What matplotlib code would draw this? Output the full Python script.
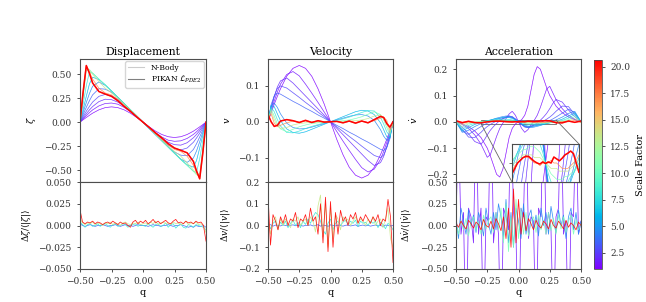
import numpy as np
import matplotlib.pyplot as plt
from matplotlib import colors, cm
from matplotlib.lines import Line2D
from mpl_toolkits.axes_grid1.inset_locator import mark_inset

plt.rcParams['font.family'] = 'DejaVu Serif'
plt.rcParams['mathtext.fontset'] = 'dejavuserif'
plt.rcParams['axes.edgecolor'] = '0.3'
plt.rcParams['xtick.color'] = '0.2'
plt.rcParams['ytick.color'] = '0.2'

## scale factors of the plotted snapshots
scales = [1.0, 1.5, 2.0, 2.7, 3.5, 4.5, 6.0, 8.0, 10.5, 13.5, 17.0, 20.5]

## displacement zeta(q), one row per scale factor
q_disp = [-0.5, -0.475, -0.45, -0.425, -0.4, -0.35, -0.3, -0.25, -0.2, -0.15, -0.1, -0.05, 0.0,
          0.05, 0.1, 0.15, 0.2, 0.25, 0.3, 0.35, 0.4, 0.425, 0.45, 0.475, 0.5]
disp = [
    [0, 0.025, 0.049, 0.072, 0.094, 0.129, 0.152, 0.16, 0.152, 0.129, 0.094, 0.049, 0, -0.049, -0.094, -0.129, -0.152, -0.16, -0.152, -0.129, -0.094, -0.072, -0.049, -0.025, 0],
    [0, 0.035, 0.068, 0.1, 0.128, 0.17, 0.195, 0.2, 0.188, 0.155, 0.11, 0.057, 0, -0.057, -0.11, -0.155, -0.188, -0.2, -0.195, -0.17, -0.128, -0.1, -0.068, -0.035, 0],
    [0, 0.045, 0.088, 0.128, 0.163, 0.215, 0.24, 0.235, 0.21, 0.17, 0.12, 0.062, 0, -0.062, -0.12, -0.17, -0.21, -0.235, -0.24, -0.215, -0.163, -0.128, -0.088, -0.045, 0],
    [0, 0.06, 0.115, 0.165, 0.21, 0.27, 0.29, 0.275, 0.24, 0.188, 0.128, 0.065, 0, -0.065, -0.128, -0.188, -0.24, -0.275, -0.29, -0.27, -0.21, -0.165, -0.115, -0.06, 0],
    [0, 0.08, 0.155, 0.225, 0.285, 0.35, 0.345, 0.312, 0.256, 0.194, 0.13, 0.065, 0, -0.065, -0.13, -0.194, -0.256, -0.312, -0.345, -0.35, -0.285, -0.225, -0.155, -0.08, 0],
    [0, 0.105, 0.205, 0.3, 0.375, 0.42, 0.385, 0.325, 0.26, 0.195, 0.13, 0.065, 0, -0.065, -0.13, -0.195, -0.26, -0.325, -0.385, -0.42, -0.375, -0.3, -0.205, -0.105, 0],
    [0, 0.135, 0.27, 0.4, 0.47, 0.445, 0.39, 0.325, 0.26, 0.195, 0.13, 0.065, 0, -0.065, -0.13, -0.195, -0.26, -0.325, -0.39, -0.445, -0.47, -0.4, -0.27, -0.135, 0],
    [0, 0.19, 0.38, 0.525, 0.512, 0.45, 0.39, 0.325, 0.26, 0.195, 0.13, 0.065, 0, -0.065, -0.13, -0.195, -0.26, -0.325, -0.39, -0.45, -0.512, -0.525, -0.38, -0.19, 0],
    [0, 0.26, 0.54, 0.55, 0.513, 0.45, 0.388, 0.323, 0.258, 0.193, 0.129, 0.064, 0, -0.064, -0.129, -0.193, -0.258, -0.323, -0.388, -0.45, -0.513, -0.55, -0.54, -0.26, 0],
    [0, 0.29, 0.575, 0.54, 0.5, 0.425, 0.355, 0.305, 0.25, 0.188, 0.126, 0.063, 0, -0.063, -0.126, -0.188, -0.25, -0.305, -0.355, -0.425, -0.5, -0.54, -0.575, -0.29, 0],
    [0, 0.31, 0.588, 0.525, 0.45, 0.355, 0.305, 0.285, 0.235, 0.175, 0.118, 0.058, 0, -0.058, -0.118, -0.175, -0.235, -0.285, -0.305, -0.355, -0.45, -0.525, -0.588, -0.31, 0],
    [0, 0.32, 0.592, 0.51, 0.41, 0.32, 0.294, 0.27, 0.224, 0.165, 0.113, 0.055, 0, -0.055, -0.113, -0.165, -0.224, -0.27, -0.294, -0.32, -0.41, -0.51, -0.592, -0.32, 0],
]

## velocity v(q), same grid as displacement
vel = [
    [0, 0.025, 0.049, 0.071, 0.092, 0.127, 0.149, 0.157, 0.149, 0.127, 0.092, 0.049, 0, -0.049, -0.092, -0.127, -0.149, -0.157, -0.149, -0.127, -0.092, -0.071, -0.049, -0.025, 0],
    [0, 0.03, 0.058, 0.083, 0.105, 0.132, 0.14, 0.128, 0.105, 0.08, 0.054, 0.027, 0, -0.027, -0.054, -0.08, -0.105, -0.128, -0.14, -0.132, -0.105, -0.083, -0.058, -0.03, 0],
    [0, 0.036, 0.07, 0.097, 0.114, 0.122, 0.108, 0.09, 0.072, 0.054, 0.036, 0.018, 0, -0.018, -0.036, -0.054, -0.072, -0.09, -0.108, -0.122, -0.114, -0.097, -0.07, -0.036, 0],
    [0, 0.04, 0.072, 0.093, 0.1, 0.094, 0.081, 0.068, 0.054, 0.041, 0.027, 0.014, 0, -0.014, -0.027, -0.041, -0.054, -0.068, -0.081, -0.094, -0.1, -0.093, -0.072, -0.04, 0],
    [0, 0.048, 0.072, 0.08, 0.077, 0.067, 0.057, 0.048, 0.038, 0.029, 0.019, 0.01, 0, -0.01, -0.019, -0.029, -0.038, -0.048, -0.057, -0.067, -0.077, -0.08, -0.072, -0.048, 0],
    [0, 0.045, 0.052, 0.04, 0.022, -0.004, -0.016, -0.02, -0.019, -0.015, -0.01, -0.005, 0, 0.005, 0.01, 0.015, 0.019, 0.02, 0.016, 0.004, -0.022, -0.04, -0.052, -0.045, 0],
    [0, 0.045, 0.042, 0.022, 0.003, -0.02, -0.03, -0.032, -0.028, -0.021, -0.014, -0.007, 0, 0.007, 0.014, 0.021, 0.028, 0.032, 0.03, 0.02, -0.003, -0.022, -0.042, -0.045, 0],
    [0, 0.04, 0.028, 0.006, -0.012, -0.03, -0.031, -0.026, -0.019, -0.013, -0.008, -0.003, 0, 0.003, 0.008, 0.013, 0.019, 0.026, 0.031, 0.03, 0.012, -0.006, -0.028, -0.04, 0],
    [0, 0.035, 0.016, -0.006, -0.02, -0.028, -0.021, -0.014, -0.009, -0.005, -0.003, -0.001, 0, 0.001, 0.003, 0.005, 0.009, 0.014, 0.021, 0.028, 0.02, 0.006, -0.016, -0.035, 0],
    [0.003, 0.03, 0.006, -0.012, -0.019, -0.016, -0.009, -0.005, -0.003, -0.002, -0.001, 0.0, 0, 0.0, 0.001, 0.002, 0.003, 0.005, 0.009, 0.016, 0.019, 0.012, -0.006, -0.03, -0.003],
    [0.01, 0.022, -0.004, -0.013, -0.01, -0.003, 0.002, -0.002, 0.002, -0.001, 0.002, -0.001, 0, 0.001, -0.002, 0.001, -0.002, 0.002, -0.002, 0.003, 0.01, 0.013, 0.004, -0.022, -0.01],
    [0.02, 0.0, -0.013, -0.01, 0.002, 0.006, 0.003, -0.002, 0.004, -0.002, 0.003, -0.001, 0, 0.001, -0.003, 0.002, -0.004, 0.002, -0.003, 0.006, 0.015, 0.012, -0.005, -0.015, 0.0],
]

## acceleration dv/dt(q)
q_acc = [-0.5, -0.45, -0.4, -0.35, -0.3, -0.275, -0.25, -0.225, -0.2, -0.175, -0.15, -0.125, -0.1, -0.075, -0.05, -0.025, 0.0,
         0.025, 0.05, 0.075, 0.1, 0.125, 0.15, 0.175, 0.2, 0.225, 0.25, 0.275, 0.3, 0.35, 0.4, 0.45, 0.5]
acc = [
    [0, -0.008, -0.018, -0.035, -0.06, -0.08, -0.1, -0.13, -0.165, -0.2, -0.21, -0.18, -0.12, -0.06, -0.025, -0.008, 0,
     0.008, 0.025, 0.06, 0.12, 0.18, 0.21, 0.2, 0.165, 0.13, 0.1, 0.08, 0.06, 0.035, 0.018, 0.008, 0],
    [0, -0.01, -0.025, -0.05, -0.085, -0.11, -0.135, -0.125, -0.09, -0.055, -0.025, -0.005, 0.012, 0.03, 0.04, 0.025, 0,
     -0.025, -0.04, -0.03, -0.012, 0.005, 0.025, 0.055, 0.09, 0.125, 0.135, 0.11, 0.085, 0.05, 0.025, 0.01, 0],
    [0, -0.02, -0.045, -0.075, -0.085, -0.07, -0.05, -0.032, -0.018, -0.006, 0.004, 0.012, 0.018, 0.022, 0.02, 0.011, 0,
     -0.011, -0.02, -0.022, -0.018, -0.012, -0.004, 0.006, 0.018, 0.032, 0.05, 0.07, 0.085, 0.075, 0.045, 0.02, 0],
    [0, -0.028, -0.058, -0.06, -0.04, -0.028, -0.018, -0.01, -0.003, 0.003, 0.008, 0.012, 0.016, 0.018, 0.016, 0.009, 0,
     -0.009, -0.016, -0.018, -0.016, -0.012, -0.008, -0.003, 0.003, 0.01, 0.018, 0.028, 0.04, 0.06, 0.058, 0.028, 0],
    [0, -0.035, -0.048, -0.033, -0.018, -0.011, -0.005, 0.0, 0.005, 0.009, 0.013, 0.016, 0.019, 0.02, 0.017, 0.009, 0,
     -0.009, -0.017, -0.02, -0.019, -0.016, -0.013, -0.009, -0.005, 0.0, 0.005, 0.011, 0.018, 0.033, 0.048, 0.035, 0],
    [0, -0.04, -0.032, -0.018, -0.007, -0.003, 0.002, 0.006, 0.01, 0.014, 0.017, 0.02, 0.022, 0.022, 0.018, 0.01, 0,
     -0.01, -0.018, -0.022, -0.022, -0.02, -0.017, -0.014, -0.01, -0.006, -0.002, 0.003, 0.007, 0.018, 0.032, 0.04, 0],
    [0, -0.034, -0.022, -0.01, -0.002, 0.001, 0.004, 0.007, 0.01, 0.012, 0.014, 0.016, 0.017, 0.016, 0.013, 0.007, 0,
     -0.007, -0.013, -0.016, -0.017, -0.016, -0.014, -0.012, -0.01, -0.007, -0.004, -0.001, 0.002, 0.01, 0.022, 0.034, 0],
    [0, -0.028, -0.014, -0.005, 0.0, 0.002, 0.004, 0.005, 0.007, 0.008, 0.009, 0.01, 0.01, 0.009, 0.007, 0.004, 0,
     -0.004, -0.007, -0.009, -0.01, -0.01, -0.009, -0.008, -0.007, -0.005, -0.004, -0.002, 0.0, 0.005, 0.014, 0.028, 0],
    [0, -0.02, -0.008, -0.002, 0.001, 0.002, 0.003, 0.004, 0.005, 0.005, 0.006, 0.006, 0.006, 0.005, 0.004, 0.002, 0,
     -0.002, -0.004, -0.005, -0.006, -0.006, -0.006, -0.005, -0.005, -0.004, -0.003, -0.002, -0.001, 0.002, 0.008, 0.02, 0],
    [0.002, -0.012, -0.004, 0.0, -0.001, 0.0, 0.001, 0.002, 0.003, 0.003, 0.003, 0.003, 0.002, 0.002, 0.002, 0.001, 0,
     -0.001, -0.002, -0.002, -0.002, -0.003, -0.003, -0.003, -0.003, -0.002, -0.001, 0.0, 0.001, 0.0, 0.004, 0.012, -0.002],
    [0.003, -0.006, 0.0, -0.002, -0.003, -0.001, 0.0, 0.001, 0.002, 0.002, 0.002, 0.001, 0.0, 0.0, -0.001, 0.0, 0,
     0.0, 0.001, 0.0, 0.0, -0.001, -0.002, -0.002, -0.002, -0.001, 0.0, 0.001, 0.003, 0.002, 0.0, 0.006, -0.003],
    [0.004, -0.003, 0.002, -0.003, -0.004, -0.002, 0.0, 0.001, 0.002, 0.0025, 0.0024, 0.0015, 0.0006, 0.0, -0.0004, 0.0004, -0.0002,
     0.0004, 0.0, 0.0022, 0.0015, 0.0008, 0.0018, 0.003, 0.0036, 0.0044, 0.0035, 0.0, -0.0035, -0.004, 0.003, -0.002, 0.003],
]

## relative errors (PIKAN - N-body) / <|N-body|>, evenly spaced in q
res_scales = [3.5, 8.0, 13.5, 20.5]
disp_res = [
    [0.002, 0.0, -0.001, 0.0, 0.001, 0.0, -0.001, 0.0, 0.0, 0.001, 0.0, -0.001, 0.0, 0.0, 0.001, 0.0, -0.001, 0.0, 0.001, 0.0, 0.0, -0.001, 0.0, 0.001, 0.0, 0.0, 0.0, -0.001, 0.0, 0.001, 0.0, 0.0, -0.001, 0.0, 0.0, 0.001, 0.0, -0.001, 0.0, 0.0, 0.001, 0.0, -0.001, -0.002, -0.001, -0.002, 0.0, -0.001, -0.001, 0.0, -0.002],
    [0.004, 0.001, -0.002, 0.001, 0.002, -0.001, 0.0, 0.002, -0.001, 0.001, 0.002, 0.0, -0.002, 0.001, 0.002, -0.001, 0.0, 0.002, 0.001, -0.002, 0.0, 0.001, 0.002, -0.001, 0.001, 0.0, -0.001, 0.002, 0.0, -0.002, 0.001, 0.002, -0.001, 0.0, 0.003, -0.002, 0.001, 0.002, -0.003, 0.0, 0.002, -0.002, -0.003, 0.001, 0.0, -0.002, 0.001, 0.0, -0.001, -0.002, -0.005],
    [0.008, 0.003, 0.001, 0.003, 0.002, 0.004, 0.001, 0.003, 0.002, 0.0, 0.003, 0.002, 0.004, 0.001, 0.003, 0.002, 0.0, 0.003, 0.004, 0.002, 0.001, 0.003, 0.002, 0.004, 0.001, 0.002, 0.003, 0.001, 0.004, 0.002, 0.005, 0.001, 0.003, 0.004, 0.002, 0.003, 0.001, 0.004, 0.002, 0.003, 0.001, 0.002, 0.005, 0.001, 0.003, 0.002, 0.004, 0.001, 0.002, 0.0, -0.008],
    [0.018, 0.004, 0.002, 0.004, 0.003, 0.005, 0.002, 0.004, 0.003, 0.001, 0.003, 0.004, 0.002, 0.005, 0.003, 0.001, 0.004, 0.002, 0.003, 0.0, -0.002, 0.004, 0.006, 0.002, 0.005, 0.003, 0.006, 0.002, 0.004, 0.007, 0.003, 0.005, 0.002, 0.004, 0.006, 0.003, 0.002, 0.005, 0.007, 0.003, 0.004, 0.002, 0.005, 0.003, 0.004, 0.002, 0.005, 0.003, 0.004, 0.0, -0.018],
]
vel_res = [
    [0.0, 0.004, -0.003, 0.002, 0.0, -0.002, 0.003, 0.0, -0.002, 0.001, 0.003, -0.001, 0.0, 0.002, -0.003, 0.001, 0.0, 0.003, -0.002, 0.0, 0.004, -0.003, 0.002, 0.0, -0.004, 0.003, 0.0, -0.002, 0.002, 0.0, -0.003, 0.001, 0.002, -0.002, 0.0, 0.003, -0.004, 0.0, 0.002, -0.002, 0.001, -0.003, 0.0, 0.002, -0.002, 0.0, -0.004, 0.002, 0.0, -0.002, 0.0],
    [0.02, -0.015, 0.01, 0.02, -0.01, 0.015, 0.0, 0.02, -0.01, 0.01, 0.025, 0.0, 0.015, -0.01, 0.02, 0.005, 0.03, 0.01, 0.04, 0.06, 0.05, 0.02, -0.02, -0.04, 0.01, 0.03, -0.02, 0.01, 0.02, 0.0, 0.015, 0.025, 0.005, 0.02, 0.01, 0.025, -0.005, 0.02, 0.01, 0.015, 0.0, 0.02, 0.01, 0.02, -0.01, 0.015, 0.005, -0.015, 0.01, 0.0, -0.02],
    [0.03, -0.04, 0.02, 0.04, -0.02, 0.03, 0.0, 0.03, 0.01, -0.01, 0.03, 0.02, 0.04, 0.0, 0.02, 0.03, 0.0, 0.04, 0.02, -0.03, 0.09, 0.14, -0.05, 0.1, -0.1, 0.08, -0.06, 0.05, 0.03, -0.02, 0.04, 0.02, 0.03, 0.0, 0.02, 0.04, 0.01, 0.03, 0.02, 0.0, 0.03, 0.01, 0.04, 0.0, 0.02, 0.03, -0.01, 0.03, 0.08, -0.06, -0.1],
    [0.14, -0.09, 0.05, 0.02, -0.02, 0.04, 0.01, 0.05, 0.0, 0.03, 0.02, 0.06, -0.01, 0.03, 0.02, 0.05, 0.0, 0.08, 0.02, 0.04, -0.04, 0.1, -0.08, 0.13, -0.12, 0.11, -0.1, 0.06, -0.04, 0.07, 0.02, 0.04, 0.0, 0.05, 0.03, 0.06, 0.01, 0.04, 0.02, 0.05, 0.03, 0.01, 0.04, 0.02, 0.05, 0.0, 0.03, 0.02, 0.12, 0.04, -0.17],
]
acc_res_scales = [1.5, 4.5, 10.5, 20.5]
acc_res = [
    [0.05, 1.2, -0.1, 0.15, -1.5, 0.2, 0.1, -0.2, 1.4, -0.1, 0.2, -1.3, 0.1, 0.05, 1.6, -0.2, 0.15, -0.1, -1.5, 0.2, 0.1, -0.05, 1.4, 0.15, -0.1, -1.6, 0.2, 0.1, 1.3, -0.15, 0.1, 0.05, -1.4, 0.2, 0.1, 1.5, -0.1, 0.15, -0.05, -1.3, 0.1, 0.2, 1.4, -0.1, 0.05, -1.5, 0.15, 0.1, 1.2, -0.1, 0.05],
    [0.1, -0.15, 0.2, 0.05, -0.1, 0.18, 0.0, 0.12, -0.08, 0.15, 0.05, -0.12, 0.2, 0.02, -0.1, 0.15, -0.05, 0.25, 0.1, -0.15, 0.3, -0.2, 0.15, -0.25, 0.2, 0.05, -0.15, 0.25, -0.1, 0.1, 0.18, -0.05, 0.12, -0.12, 0.2, 0.0, 0.15, -0.1, 0.22, 0.05, -0.08, 0.18, 0.0, 0.12, -0.15, 0.1, 0.2, -0.05, 0.15, -0.1, 0.05],
    [0.02, -0.1, 0.06, -0.05, 0.08, -0.12, 0.04, 0.1, -0.06, 0.05, -0.1, 0.12, -0.04, 0.06, 0.1, -0.08, 0.15, -0.05, 0.2, -0.2, 0.25, -0.3, 0.1, -0.25, 0.3, -0.15, 0.2, -0.1, 0.15, -0.12, 0.05, 0.1, -0.08, 0.12, -0.05, 0.06, -0.1, 0.15, -0.06, 0.08, -0.1, 0.12, -0.04, 0.1, -0.08, 0.05, 0.12, -0.1, 0.06, -0.05, 0.02],
    [0.03, -0.02, 0.05, 0.0, -0.04, 0.06, 0.02, -0.03, 0.04, 0.01, -0.05, 0.07, 0.0, -0.02, 0.05, -0.04, 0.08, 0.02, -0.06, 0.1, -0.15, 0.2, -0.25, 0.42, -0.2, 0.3, -0.1, 0.15, -0.06, 0.08, 0.02, -0.05, 0.06, 0.0, -0.03, 0.05, 0.02, -0.04, 0.07, 0.0, -0.03, 0.05, 0.01, -0.04, 0.06, -0.02, 0.03, 0.0, -0.05, 0.04, 0.0],
]

cmap = plt.get_cmap('rainbow')
norm = colors.Normalize(vmin=0.97, vmax=20.63)

W, H = 646, 302
def box(x0, y0, x1, y1):
    return [x0 / W, 1 - y1 / H, (x1 - x0) / W, (y1 - y0) / H]

def draw_family(ax, q, curves, sf):
    for i, (a, y) in enumerate(zip(sf, curves)):
        c = cmap(norm(a))
        last = i == len(sf) - 1
        ax.plot(q, y, color=c, lw=0.9 if last else 0.4, alpha=0.35)   # N-body
        ax.plot(q, y, color=c, lw=1.1 if last else 0.5, alpha=1.0 if last else 0.75)  # PIKAN

def draw_res(ax, curves, sf):
    for a, y in zip(sf, curves):
        ax.plot(np.linspace(-0.5, 0.5, len(y)), y, color=cmap(norm(a)), lw=0.55, alpha=0.9)

fig = plt.figure(figsize=(6.46, 3.02), dpi=100)

titles = ['Displacement', 'Velocity', 'Acceleration']
ylab_top = [r'$\zeta$', r'$v$', r'$\dot{v}$']
ylab_bot = [r'$\Delta\zeta/\langle|\zeta|\rangle$', r'$\Delta v/\langle|v|\rangle$',
            r'$\Delta\dot{v}/\langle|\dot{v}|\rangle$']
lefts = [80, 268, 456]
widths = [126, 125, 125]
top_lims = [(-0.625, 0.66), (-0.168, 0.175), (-0.229, 0.239)]
top_ticks = [[-0.5, -0.25, 0, 0.25, 0.5], [-0.1, 0, 0.1], [-0.2, -0.1, 0, 0.1, 0.2]]
bot_lims = [0.05, 0.2, 0.5]
bot_ticks = [np.arange(-0.05, 0.051, 0.025), np.arange(-0.2, 0.21, 0.1), np.arange(-0.5, 0.51, 0.25)]

axes_top = []
for i in range(3):
    l, w = lefts[i], widths[i]
    at = fig.add_axes(box(l, 59, l + w, 182))
    ab = fig.add_axes(box(l, 182, l + w, 269), sharex=at)
    axes_top.append(at)

    if i == 0:
        draw_family(at, q_disp, disp, scales)
        draw_res(ab, disp_res, res_scales)
    elif i == 1:
        draw_family(at, q_disp, vel, scales)
        draw_res(ab, vel_res, res_scales)
    else:
        draw_family(at, q_acc, acc, scales)
        draw_res(ab, acc_res, acc_res_scales)

    at.set_xlim(-0.5, 0.5)
    at.set_ylim(*top_lims[i])
    at.set_yticks(top_ticks[i])
    at.tick_params(labelbottom=False, labelsize=6.5, length=2.5, width=0.6)
    at.set_title(titles[i], fontsize=7.8, pad=3)
    at.set_ylabel(ylab_top[i], fontsize=7)

    ab.set_ylim(-bot_lims[i], bot_lims[i])
    ab.set_yticks(bot_ticks[i])
    ab.set_xticks([-0.5, -0.25, 0, 0.25, 0.5])
    ab.tick_params(labelsize=6.5, length=2.5, width=0.6)
    ab.set_xlabel('q', fontsize=7, labelpad=1)
    ab.set_ylabel(ylab_bot[i], fontsize=6.5)

# legend in displacement panel
handles = [Line2D([], [], color='0.8', lw=0.8), Line2D([], [], color='0.5', lw=0.8)]
axes_top[0].legend(handles, ['N-Body', r'PIKAN $\mathcal{L}_{PDE2}$'], loc='upper right',
                   fontsize=5.5, handlelength=2.2, borderpad=0.35, labelspacing=0.25,
                   borderaxespad=0.3)

# zoom inset in the acceleration panel
axins = fig.add_axes(box(512, 144, 579, 182))
draw_family(axins, q_acc, acc, scales)
axins.set_xlim(-0.3, 0.3)
axins.set_ylim(-0.007, 0.007)
axins.set_xticks([])
axins.set_yticks([0])
axins.set_yticklabels([])
axins.tick_params(length=2, width=0.5)
mark_inset(axes_top[2], axins, loc1=1, loc2=3, fc='none', ec='0.4', lw=0.6)

# colorbar
cax = fig.add_axes(box(594, 60, 602, 269))
cb = fig.colorbar(cm.ScalarMappable(norm=norm, cmap=cmap), cax=cax)
cb.set_label('Scale Factor', fontsize=7)
cb.ax.tick_params(labelsize=6.5, length=2.5, width=0.6)
cb.outline.set_linewidth(0.6)

fig.savefig('out.png', dpi=100)
